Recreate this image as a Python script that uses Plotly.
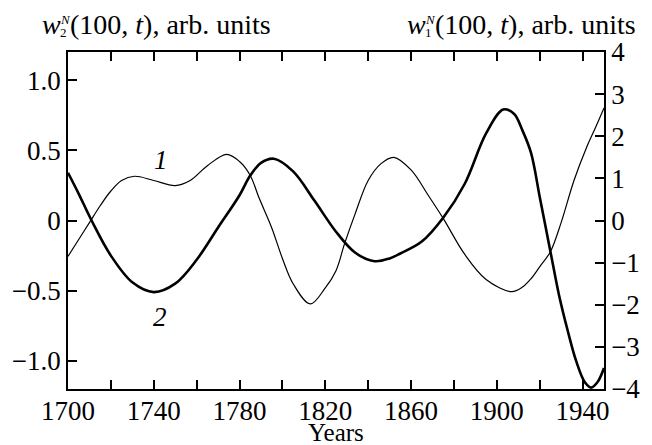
import plotly.graph_objects as go

# Curve 2 (thick) -> left axis w2
years2 = [1700, 1705, 1711, 1720, 1730, 1740, 1750, 1760, 1770, 1780, 1785, 1790, 1796,
          1805, 1815, 1825, 1834, 1843, 1850, 1855, 1865, 1875, 1885, 1895, 1903, 1908,
          1912, 1916, 1920, 1925, 1929, 1933, 1937, 1941, 1944, 1947, 1950]
w2 = [0.34, 0.19, 0.0, -0.25, -0.44, -0.51, -0.45, -0.28, -0.05, 0.18, 0.32, 0.41, 0.44,
      0.35, 0.14, -0.08, -0.23, -0.29, -0.27, -0.235, -0.15, 0.02, 0.26, 0.62, 0.79, 0.76,
      0.64, 0.48, 0.17, -0.22, -0.53, -0.78, -1.0, -1.15, -1.19, -1.15, -1.05]

# Curve 1 (thin) -> right axis w1
years1 = [1700, 1705, 1710, 1715, 1720, 1725, 1731, 1740, 1750, 1757, 1765, 1774, 1780,
          1785, 1789, 1795, 1800, 1805, 1813, 1820, 1825, 1829, 1834, 1840, 1846, 1852,
          1860, 1868, 1875, 1885, 1895, 1907, 1912, 1916, 1920, 1925, 1930, 1936, 1942, 1946, 1950]
w1 = [-0.85, -0.45, -0.05, 0.35, 0.70, 0.95, 1.05, 0.95, 0.83, 0.95, 1.30, 1.57, 1.40,
      1.07, 0.55, -0.17, -0.90, -1.50, -1.98, -1.60, -1.19, -0.55, 0.17, 0.95, 1.35, 1.50,
      1.20, 0.60, 0.05, -0.80, -1.40, -1.69, -1.58, -1.38, -1.10, -0.74, -0.05, 0.95, 1.75, 2.20, 2.67]

x_ticks = list(range(1700, 1941, 20))
x_text = [str(v) if (v - 1700) % 40 == 0 else "" for v in x_ticks]
left_ticks = [-1.0, -0.5, 0, 0.5, 1.0]
left_text = ["\u22121.0", "\u22120.5", "0", "0.5", "1.0"]
right_ticks = [-4, -3, -2, -1, 0, 1, 2, 3, 4]
right_text = [("\u2212" + str(-v)) if v < 0 else str(v) for v in right_ticks]

FONT = "Liberation Serif, Times New Roman, serif"
FS = 27
FS_TITLE = 28
FS_SMALL = 13

# plot area in pixels: x 61..618, y 52..389
def px(xp):
    return (xp - 61) / 557.0

def py(yp):
    return (389 - yp) / 337.0

fig = go.Figure()
fig.add_trace(go.Scatter(x=years2, y=w2, mode="lines", yaxis="y",
                         line=dict(color="black", width=2.6, shape="spline", smoothing=1.0),
                         showlegend=False))
fig.add_trace(go.Scatter(x=years1, y=w1, mode="lines", yaxis="y2",
                         line=dict(color="black", width=1.2, shape="spline", smoothing=1.0),
                         showlegend=False))

axis_common = dict(showgrid=False, zeroline=False, showline=True, linecolor="black",
                   linewidth=1.5, ticks="inside", ticklen=9, tickwidth=1.5,
                   tickcolor="black", tickfont=dict(family=FONT, size=FS, color="black"))

def txt(text, x, y, xanchor="left", size=FS_TITLE, yanchor="middle"):
    return dict(text=text, xref="paper", yref="paper", x=x, y=y, xanchor=xanchor,
                yanchor=yanchor, showarrow=False, borderpad=0,
                font=dict(family=FONT, size=size, color="black"))

annotations = [
    # left title
    txt("<i>w</i>", px(33), py(24)),
    txt("<i>N</i>", px(52), py(19), size=FS_SMALL),
    txt("2", px(52), py(33), size=FS_SMALL),
    txt("(100, <i>t</i>), arb. units", px(62), py(24)),
    # right title
    txt("<i>w</i>", px(412), py(24)),
    txt("<i>N</i>", px(431), py(19), size=FS_SMALL),
    txt("1", px(431), py(33), size=FS_SMALL),
    txt("(100, <i>t</i>), arb. units", px(441), py(24)),
    # x title
    txt("Years", 0.5, py(447), xanchor="center", yanchor="bottom", size=25),
    dict(text="<i>1</i>", xref="x", yref="y", x=1743.5, y=0.43, showarrow=False,
         borderpad=0, font=dict(family=FONT, size=FS, color="black")),
    dict(text="<i>2</i>", xref="x", yref="y", x=1743, y=-0.69, showarrow=False,
         borderpad=0, font=dict(family=FONT, size=FS, color="black")),
]

fig.update_layout(
    width=652, height=445,
    margin=dict(l=61, r=34, t=52, b=56),
    paper_bgcolor="white", plot_bgcolor="white",
    font=dict(family=FONT, size=FS, color="black"),
    xaxis=dict(range=[1700, 1950], tickvals=x_ticks, ticktext=x_text, mirror="ticks",
               ticklabelstandoff=-3, **axis_common),
    yaxis=dict(range=[-1.2, 1.2], tickvals=left_ticks, ticktext=left_text, mirror=False,
               **axis_common),
    yaxis2=dict(range=[-4, 4], tickvals=right_ticks, ticktext=right_text, overlaying="y",
                side="right", **axis_common),
    annotations=annotations,
)

fig.write_html("out.html")
